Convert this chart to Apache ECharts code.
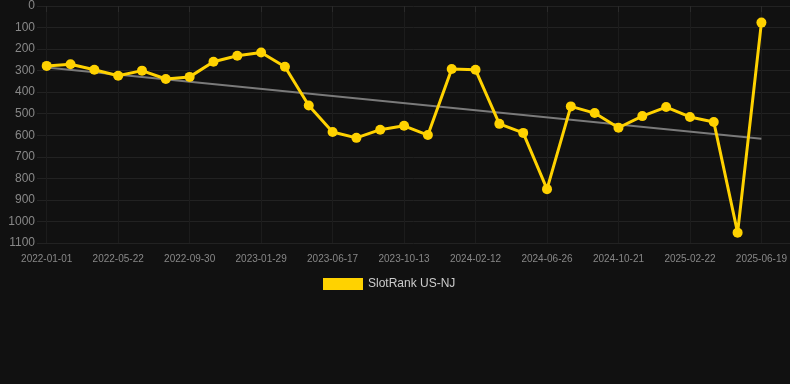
<!DOCTYPE html>
<html>
<head>
<meta charset="utf-8">
<script src="https://cdn.jsdelivr.net/npm/echarts@6/dist/echarts.min.js"></script>
<style>
html,body{margin:0;padding:0;background:#111111;}
#chart{width:790px;height:384px;}
</style>
</head>
<body>
<div id="chart"></div>
<script>
const categories = [
  '2022-01-01','2022-02-17','2022-04-05','2022-05-22','2022-07-05','2022-08-17',
  '2022-09-30','2022-11-10','2022-12-20','2023-01-29','2023-03-15','2023-05-01',
  '2023-06-17','2023-07-26','2023-09-03','2023-10-13','2023-11-23','2024-01-02',
  '2024-02-12','2024-03-28','2024-05-12','2024-06-26','2024-08-04','2024-09-12',
  '2024-10-21','2024-12-01','2025-01-11','2025-02-22','2025-04-02','2025-05-11',
  '2025-06-19'
];
const rankValues = [
  278, 270, 296, 324, 300, 339, 329, 259, 231, 216, 282, 462,
  585, 612, 574, 556, 599, 292, 296, 547, 589, 850, 466, 497,
  565, 511, 469, 515, 538, 1052, 77
];
const trendStart = 286;
const trendEnd = 616;
const yTicks = [0, 1100, 100];
const seriesName = 'SlotRank US-NJ';

const font = "'Liberation Sans', Arial, sans-serif";
const chart = echarts.init(document.getElementById('chart'), null, {renderer: 'canvas'});
const lastCat = categories[categories.length - 1];

chart.setOption({
  backgroundColor: '#111111',
  animation: false,
  grid: [
    {left: 46.7, right: 28, top: 6, bottom: 141, containLabel: false},
    {left: 37, right: 0, top: 6, bottom: 141, containLabel: false}
  ],
  legend: {
    data: [seriesName],
    left: 318, top: 273,
    itemWidth: 40, itemHeight: 12, itemGap: 6,
    icon: 'rect',
    textStyle: {color: '#cccccc', fontSize: 12, fontFamily: font}
  },
  xAxis: [
    {
      type: 'category', gridIndex: 0, data: categories, boundaryGap: false,
      axisLine: {show: false},
      axisTick: {show: true, interval: 2, length: 6, lineStyle: {color: '#2a2a2a'}},
      axisLabel: {interval: 2, color: '#888888', fontSize: 10, fontFamily: font, margin: 11},
      splitLine: {show: true, interval: 2, lineStyle: {color: '#1c1c1c', width: 1}}
    },
    {type: 'value', gridIndex: 1, show: false}
  ],
  yAxis: [
    {type: 'value', gridIndex: 0, inverse: true, min: yTicks[0], max: yTicks[1], interval: yTicks[2], show: false},
    {
      type: 'value', gridIndex: 1, inverse: true, min: yTicks[0], max: yTicks[1], interval: yTicks[2],
      axisLine: {show: false}, axisTick: {show: false},
      axisLabel: {color: '#888888', fontSize: 12, fontFamily: font, margin: 2,
        formatter: function (v) { return String(v); }},
      splitLine: {show: true, lineStyle: {color: '#222222', width: 1}}
    }
  ],
  series: [
    {
      name: 'trend', type: 'line', xAxisIndex: 0, yAxisIndex: 0,
      data: [[categories[0], trendStart], [lastCat, trendEnd]],
      symbol: 'none', silent: true, z: 1,
      lineStyle: {color: '#7a7a7a', width: 2}
    },
    {
      name: seriesName, type: 'line', xAxisIndex: 0, yAxisIndex: 0,
      data: rankValues, z: 3,
      symbol: 'circle', symbolSize: 10,
      itemStyle: {color: '#FFD200'},
      lineStyle: {color: '#FFD200', width: 3}
    }
  ]
});
</script>
</body>
</html>
